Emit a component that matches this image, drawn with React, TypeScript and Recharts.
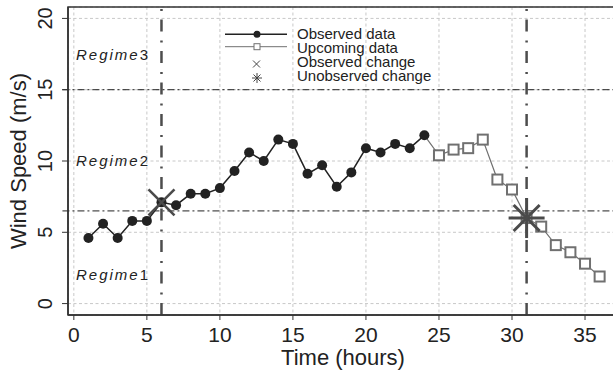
import { ComposedChart, Line, Scatter, XAxis, YAxis, CartesianGrid, ReferenceLine, ReferenceArea } from 'recharts'

// hours
const obsTime = [1, 2, 3, 4, 5, 6, 7, 8, 9, 10, 11, 12, 13, 14, 15, 16, 17, 18, 19, 20, 21, 22, 23, 24]
const observed = [4.6, 5.6, 4.6, 5.8, 5.8, 7.1, 6.9, 7.7, 7.7, 8.1, 9.3, 10.6, 10.0, 11.5, 11.2, 9.1, 9.7, 8.2, 9.2, 10.9, 10.6, 11.2, 10.9, 11.8]
const upTime = [24, 25, 26, 27, 28, 29, 30, 31, 32, 33, 34, 35, 36]
const upcoming = [11.8, 10.4, 10.8, 10.9, 11.5, 8.7, 8.0, 6.0, 5.4, 4.1, 3.6, 2.8, 1.9]

const observedChange = [{ t: 6, v: 7.1 }]
const unobservedChange = [{ t: 31, v: 6.0 }]

const regimeBounds = [6.5, 15]
const changeTimes = [6, 31]

const xTicks = [0, 5, 10, 15, 20, 25, 30, 35]
const yTicks = [0, 5, 10, 15, 20]

const legendLabels = ['Observed data', 'Upcoming data', 'Observed change', 'Unobserved change']
const regimeLabels = ['3', '2', '1']

const allTimes = Array.from(new Set([...obsTime, ...upTime])).sort((a, b) => a - b)
const data = allTimes.map((t) => {
  const i = obsTime.indexOf(t)
  const j = upTime.indexOf(t)
  return { t, obs: i >= 0 ? observed[i] : null, up: j >= 0 ? upcoming[j] : null }
})

const FONT = '"Liberation Sans", Arial, Helvetica, sans-serif'
const INK = '#222'

const YTick = (props: any) => {
  const { x, y, payload } = props
  const tx = x - 8
  return (
    <text x={tx} y={y} transform={`rotate(-90, ${tx}, ${y})`} textAnchor="middle" fontSize={20} fill={INK} fontFamily={FONT}>
      {payload.value}
    </text>
  )
}

const SquareDot = (props: any) => {
  const { cx, cy, payload, index } = props
  if (payload.up == null || payload.obs != null || cx == null) return <g key={index} />
  return <rect key={index} x={cx - 5} y={cy - 5} width={10} height={10} fill="#fff" stroke="#707070" strokeWidth={2} />
}

const XMark = (props: any) => {
  const { cx, cy } = props
  const a = 13
  return (
    <g stroke="#4a4a4a" strokeWidth={2.6}>
      <line x1={cx - a} y1={cy - a} x2={cx + a} y2={cy + a} />
      <line x1={cx - a} y1={cy + a} x2={cx + a} y2={cy - a} />
    </g>
  )
}

const StarMark = (props: any) => {
  const { cx, cy } = props
  const d = 13
  return (
    <g stroke="#4a4a4a" strokeWidth={3}>
      <line x1={cx - 18} y1={cy} x2={cx + 18} y2={cy} />
      <line x1={cx} y1={cy - 20} x2={cx} y2={cy + 20} />
      <line x1={cx - d} y1={cy - d} x2={cx + d} y2={cy + d} />
      <line x1={cx - d} y1={cy + d} x2={cx + d} y2={cy - d} />
    </g>
  )
}

export default function App() {
  const rowY = [33.8, 47.3, 61.5, 75.3]
  const regimeY = [54.3, 160.3, 275]
  return (
    <div style={{ position: 'fixed', left: 0, top: 0, width: 613, height: 373, overflow: 'hidden', background: '#fff' }}>
      <ComposedChart width={640} height={373} data={data} margin={{ top: 7, right: 17, left: 0, bottom: 0 }}>
        <CartesianGrid stroke="#c8c8c8" strokeDasharray="3 2.5" />
        <XAxis
          type="number"
          dataKey="t"
          domain={[-0.4, 37.6]}
          ticks={xTicks}
          allowDataOverflow
          height={58}
          tickSize={5}
          tickMargin={7}
          tick={{ fontSize: 21, fill: INK, fontFamily: FONT }}
          axisLine={{ stroke: '#333', strokeWidth: 1.5 }}
          tickLine={{ stroke: '#333' }}
        />
        <YAxis
          type="number"
          domain={[-0.8, 20.8]}
          ticks={yTicks}
          allowDataOverflow
          width={68}
          tickSize={6}
          tick={<YTick />}
          axisLine={{ stroke: '#333', strokeWidth: 1.5 }}
          tickLine={{ stroke: '#333' }}
        />
        <ReferenceArea x1={-0.4} x2={37.6} y1={-0.8} y2={20.8} fill="none" stroke="#333" strokeWidth={1.5} ifOverflow="visible" />
        {regimeBounds.map((v) => (
          <ReferenceLine
            key={`h-${v}`}
            segment={[{ x: -0.78, y: v }, { x: 37.6, y: v }]}
            ifOverflow="visible"
            stroke={INK}
            strokeWidth={1}
            strokeDasharray="7 3 2 3"
          />
        ))}
        {changeTimes.map((t) => (
          <ReferenceLine key={`v-${t}`} x={t} stroke="#4d4d4d" strokeWidth={2.5} strokeDasharray="12 8.5 2 9" />
        ))}
        <Line dataKey="up" stroke="#707070" strokeWidth={1.2} dot={<SquareDot />} activeDot={false} isAnimationActive={false} connectNulls={false} />
        <Line dataKey="obs" stroke={INK} strokeWidth={1.5} dot={{ r: 5, fill: INK, stroke: INK, strokeWidth: 0 }} activeDot={false} isAnimationActive={false} connectNulls={false} />
        <Scatter data={observedChange} dataKey="v" shape={<XMark />} isAnimationActive={false} />
        <Scatter data={unobservedChange} dataKey="v" shape={<StarMark />} isAnimationActive={false} />
      </ComposedChart>

      <svg width={613} height={373} style={{ position: 'absolute', left: 0, top: 0, pointerEvents: 'none' }} fontFamily={FONT}>
        {/* axis titles */}
        <text x={26} y={161} transform="rotate(-90, 26, 161)" textAnchor="middle" fontSize={22} fill={INK}>
          Wind Speed (m/s)
        </text>
        <text x={343} y={365} textAnchor="middle" fontSize={22} fill={INK}>
          Time (hours)
        </text>

        {/* regime labels */}
        {regimeLabels.map((n, i) => (
          <text key={n} x={76} y={regimeY[i]} dy="0.36em" fontSize={15} letterSpacing={2} fill={INK}>
            <tspan fontStyle="italic">Regime</tspan>
            <tspan>{n}</tspan>
          </text>
        ))}

        {/* legend */}
        <line x1={225} x2={287} y1={34.3} y2={34.3} stroke={INK} strokeWidth={1.5} />
        <circle cx={257} cy={34.3} r={3.5} fill={INK} />
        <line x1={225} x2={287} y1={46.7} y2={46.7} stroke="#707070" strokeWidth={1} />
        <rect x={254} y={43.7} width={6} height={6} fill="#fff" stroke="#707070" strokeWidth={1} />
        <g stroke="#444" strokeWidth={1}>
          <line x1={253} y1={60.5} x2={260} y2={67.5} />
          <line x1={253} y1={67.5} x2={260} y2={60.5} />
        </g>
        <g stroke="#444" strokeWidth={1}>
          <line x1={252} y1={78} x2={262} y2={78} />
          <line x1={257} y1={73} x2={257} y2={83} />
          <line x1={253.5} y1={74.5} x2={260.5} y2={81.5} />
          <line x1={253.5} y1={81.5} x2={260.5} y2={74.5} />
        </g>
        {legendLabels.map((s, i) => (
          <text key={s} x={297} y={rowY[i]} dy="0.36em" fontSize={15} fill={INK}>
            {s}
          </text>
        ))}
      </svg>
    </div>
  )
}
